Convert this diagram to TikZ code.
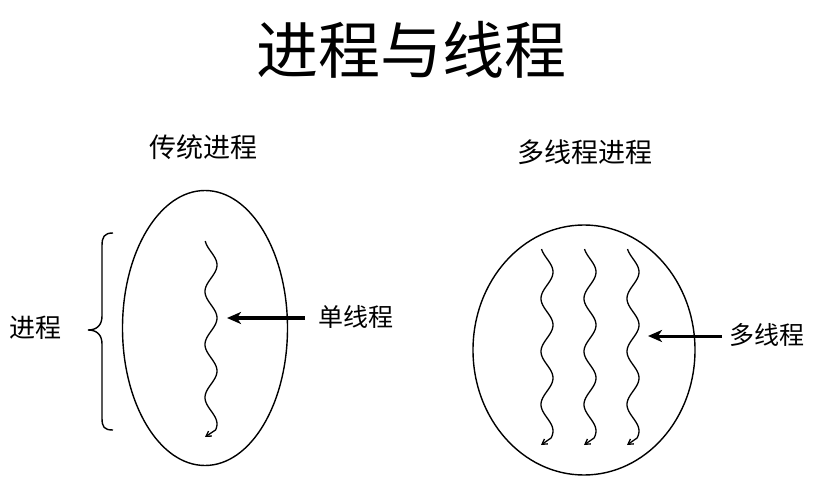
\documentclass[tikz,border=0pt]{standalone}
\usepackage{fontspec}
\newfontfamily\cjk{Noto Sans CJK SC}
\usetikzlibrary{shapes.geometric,arrows.meta}
\begin{document}
\begin{tikzpicture}[x=1pt,y=-1pt,
  lbl/.style={font=\cjk\fontsize{27}{30}\selectfont, inner sep=0pt},
  proc/.style={draw, ellipse, line width=1.4pt, inner sep=0pt},
  thread/.style={line width=1.3pt, -{Straight Barb[length=5pt,width=6pt]}},
  pointer/.style={-{Stealth[length=14pt,width=12pt,inset=4pt]}}]
\useasboundingbox (0,0) rectangle (827,494);
\node[font=\cjk\fontsize{62}{70}\selectfont, inner sep=0pt] (title) at (411,50) {进程与线程};
\node[lbl] (tradlbl) at (203,147) {传统进程};
\node[lbl] (multilbl) at (585,152) {多线程进程};
% processes
\node[proc, minimum width=165pt, minimum height=275pt] (p1) at (205,328) {};
\node[proc, minimum width=222pt, minimum height=250pt] (p2) at (584,350) {};
% single thread
\draw[thread] plot[domain=241:430, samples=120, smooth] ({211+6*sin(6.7925*(\x-251.75))}, \x) -- (205,437);
% multiple threads
\foreach \cx in {547,590,633} {
  \draw[thread] plot[domain=249:438, samples=120, smooth] ({\cx+6*sin(6.7925*(\x-258.75))}, \x) -- (\cx-6,445);
}
% labels and pointers
\node[lbl, anchor=west, font=\cjk\fontsize{25}{28}\selectfont] (single) at (318,317) {单线程};
\node[lbl, anchor=west, font=\cjk\fontsize{25}{28}\selectfont] (multi) at (729,335) {多线程};
\coordinate (s1) at (305,318);
\coordinate (s1tip) at (227,318);
\coordinate (m1) at (722,336);
\coordinate (m1tip) at (648,336);
\draw[pointer, line width=4.2pt] (s1) -- (s1tip);
\draw[pointer, line width=3pt] (m1) -- (m1tip);
% brace
\node[lbl, anchor=west, font=\cjk\fontsize{26}{28}\selectfont] (proclbl) at (9,328) {进程};
\draw[line width=1.4pt] (113,233) .. controls (104,233) and (102,237) .. (102,246)
  -- (102,316) .. controls (102,325) and (97,330) .. (88,330)
  .. controls (97,330) and (102,335) .. (102,344)
  -- (102,418) .. controls (102,427) and (104,430) .. (113,430);
\end{tikzpicture}
\end{document}
